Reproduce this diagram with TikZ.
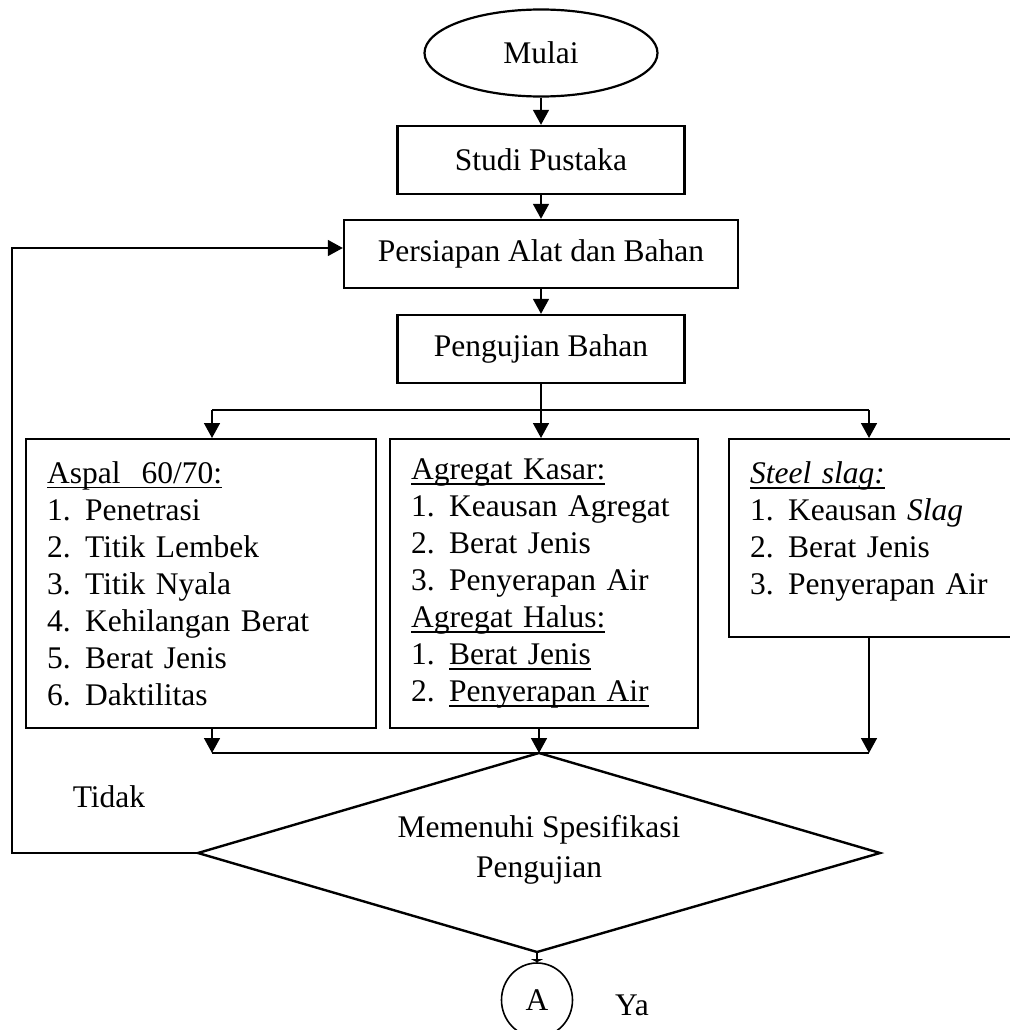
\documentclass[tikz,border=0pt]{standalone}
\usepackage{fontspec}
\setmainfont{Liberation Serif}
\usetikzlibrary{shapes.geometric,arrows.meta}
% underline drawn as a rule at a fixed depth below the baseline
\newsavebox\ulbox
\newcommand\uln[1]{\leavevmode\sbox\ulbox{#1}\rlap{\rule[-5pt]{\wd\ulbox}{1.6pt}}\usebox\ulbox}
\newcommand\itm[2]{\makebox[38pt][l]{#1}#2}
\begin{document}
\begin{tikzpicture}[x=1pt,y=-1pt,
  every node/.style={font=\fontsize{31.5}{37}\selectfont},
  procbox/.style={draw,line width=2.4pt,rectangle,inner sep=0pt,minimum height=68pt},
  listbox/.style={draw,line width=2.4pt,rectangle,inner xsep=21pt,inner ysep=0pt,align=left,anchor=north west},
  arr/.style={line width=1.6pt,-{Triangle[length=15pt,width=16pt]}},
  ln/.style={line width=1.6pt}]
\useasboundingbox (0,0) rectangle (1009,1030);

% main flow
\node[draw,ellipse,line width=2.2pt,minimum width=233pt,minimum height=87pt,inner sep=0pt] (mulai) at (541,53) {Mulai};
\node[procbox,minimum width=287pt] (studi) at (541,160) {Studi Pustaka};
\node[procbox,minimum width=394pt] (persiapan) at (541,254) {Persiapan Alat dan Bahan};
\node[procbox,minimum width=287pt] (pengujian) at (541,349) {Pengujian Bahan};

\draw[arr] (mulai.south) -- (studi.north);
\draw[arr] (studi.south) -- (persiapan.north);
\draw[arr] (persiapan.south) -- (pengujian.north);

% material test boxes
\node[listbox,minimum width=350pt,minimum height=289pt,text width=308pt] (b1) at (25,438)
  {\uln{Aspal\ \ 60/70:}\\
   \itm{1.}{Penetrasi}\\
   \itm{2.}{Titik Lembek}\\
   \itm{3.}{Titik Nyala}\\
   \itm{4.}{Kehilangan Berat}\\
   \itm{5.}{Berat Jenis}\\
   \itm{6.}{Daktilitas}};
\node[listbox,minimum width=308pt,minimum height=289pt,text width=266pt] (b2) at (389,438)
  {\uln{Agregat Kasar:}\\
   \itm{1.}{Keausan Agregat}\\
   \itm{2.}{Berat Jenis}\\
   \itm{3.}{Penyerapan Air}\\
   \uln{Agregat Halus:}\\
   \itm{1.}{\uln{Berat Jenis}}\\
   \itm{2.}{\uln{Penyerapan Air}}};
\node[listbox,minimum width=310pt,minimum height=198pt,text width=268pt] (b3) at (728,438)
  {\uln{\textit{Steel slag:}}\\
   \itm{1.}{Keausan \textit{Slag}}\\
   \itm{2.}{Berat Jenis}\\
   \itm{3.}{Penyerapan Air}\\[-17pt]\mbox{}};

% branching to the tests
\coordinate (s1) at (212,410);
\coordinate (s3) at (869,410);
\draw[ln] (s1) -- (s3);
\draw[arr] (pengujian.south) -- (b2.north -| pengujian.south);
\draw[arr] (s1) -- (b1.north -| s1);
\draw[arr] (s3) -- (b3.north -| s3);

% decision diamond
\coordinate (dT) at (539,753);
\coordinate (dL) at (198,853);
\coordinate (dR) at (880,853);
\coordinate (dB) at (537,952);
\draw[line width=2.4pt,line join=miter] (dT) -- (dR) -- (dB) -- (dL) -- cycle;
\node[align=center] (dec) at (539,850) {Memenuhi Spesifikasi\\[3pt]Pengujian};

\coordinate (m1) at (212,753);
\coordinate (m3) at (869,753);
\draw[ln] (m1) -- (m3);
\draw[arr] (b1.south -| m1) -- (m1);
\draw[arr] (b2.south -| dT) -- (dT);
\draw[arr] (b3.south -| m3) -- (m3);

% loop back when not satisfied
\coordinate (fb) at (12,248);
\draw[arr] (dL) -| (fb) -- (fb -| persiapan.west);
\node (tidak) at (109,797) {Tidak};

% continuation connector
\node[draw,ellipse,line width=1.6pt,minimum width=71pt,minimum height=74pt,inner sep=0pt] (A) at (537,1000) {A};
\draw[ln,-{Triangle[length=3pt,width=12pt]}] (dB) -- (A.north);
\node (ya) at (632,1005) {Ya};
\end{tikzpicture}
\end{document}
